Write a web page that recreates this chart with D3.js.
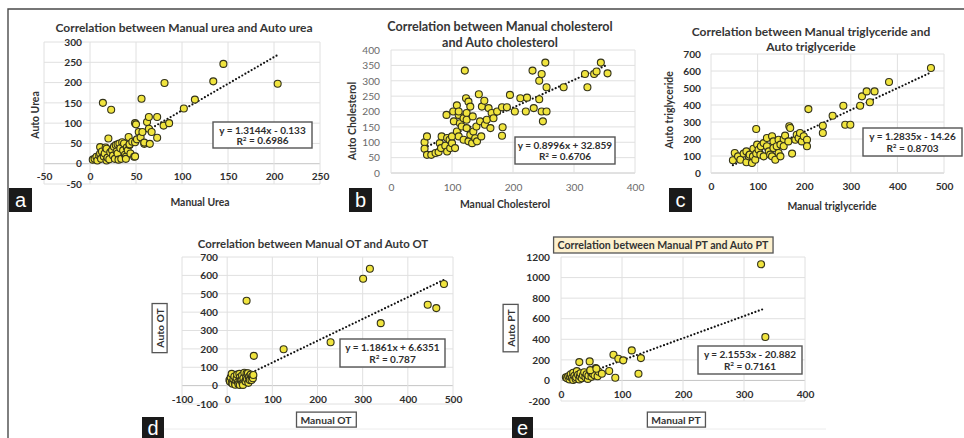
<!DOCTYPE html>
<html>
<head>
<meta charset="utf-8">
<script src="https://cdn.jsdelivr.net/npm/d3@7"></script>
<style>
  body { margin: 0; background: #fff; }
  svg { display: block; font-family: Lato, "Open Sans", sans-serif; }
</style>
</head>
<body>
<div id="chart"></div>
<script>
// data
var ureaPts = [[3,10],[5,12],[7,17],[8,8],[10,20],[11,25],[12,12],[11,41],[13,30],[14,150],[15,18],[16,25],[17,40],
  [18,8],[18,37],[19,15],[20,62],[21,11],[22,28],[23,133],[24,33],[25,20],[26,42],[27,12],[28,46],[29,30],[30,25],
  [30,48],[31,10],[32,50],[33,38],[34,12],[35,53],[36,33],[37,50],[38,22],[39,17],[39,12],[40,40],[41,33],[42,66],
  [43,46],[43,48],[44,25],[46,54],[48,17],[49,18],[49,53],[49,100],[50,97],[51,60],[53,78],[55,65],[56,160],[57,78],
  [59,49],[59,52],[62,103],[64,115],[64,86],[65,49],[67,78],[73,115],[73,64],[80,94],[81,199],[86,100],[102,136],
  [114,158],[134,203],[145,246],[204,197]];

var cholPts = [[55,100],[55,79],[59,119],[59,59],[66,59],[73,65],[78,68],[80,97],[82,81],[83,119],[89,89],[91,189],
  [92,114],[92,70],[96,108],[97,81],[100,97],[100,119],[102,200],[103,168],[105,81],[108,220],[108,135],[111,119],
  [111,189],[111,200],[113,162],[116,151],[119,108],[119,178],[121,333],[123,243],[124,146],[124,195],[124,173],
  [127,232],[127,103],[130,124],[130,216],[133,97],[134,184],[135,135],[138,113],[140,151],[141,103],[144,256],
  [146,168],[148,119],[149,216],[153,235],[154,157],[157,173],[160,211],[163,146],[165,195],[168,178],[174,200],
  [182,214],[182,121],[183,149],[190,214],[195,254],[203,200],[212,243],[221,200],[223,245],[232,333],[234,211],
  [243,300],[243,240],[247,322],[247,200],[249,168],[253,359],[255,279],[255,200],[283,279],[318,322],[322,279],
  [333,322],[337,330],[344,359],[355,324]];

var trigPts = [[47,75],[51,118],[58,98],[63,78],[70,114],[76,63],[76,127],[81,98],[83,108],[88,59],[90,98],[91,143],
  [95,78],[97,259],[97,114],[99,167],[102,137],[106,108],[107,157],[113,176],[113,98],[120,206],[120,157],[124,127],
  [127,108],[131,216],[131,98],[134,186],[134,147],[138,78],[141,157],[145,196],[145,118],[149,167],[149,98],
  [156,200],[156,157],[159,220],[166,186],[168,275],[170,265],[174,114],[181,196],[184,225],[188,206],[191,235],
  [195,186],[199,216],[206,196],[206,157],[209,376],[240,278],[240,235],[261,337],[284,396],[288,284],[299,284],
  [320,396],[324,451],[334,480],[341,416],[351,480],[382,535],[472,618]];

var otPts = [[5,30],[6,22],[8,45],[10,64],[10,15],[12,10],[14,35],[16,50],[17,13],[18,5],[20,28],[21,40],[22,60],
  [24,20],[25,8],[27,64],[28,4],[28,45],[30,30],[32,31],[33,55],[34,12],[35,4],[36,40],[38,70],[40,25],[41,22],
  [42,50],[43,67],[44,35],[46,67],[47,15],[48,45],[49,49],[50,30],[52,60],[54,31],[55,50],[57,40],[58,58],
  [43,462],[59,162],[125,198],[229,236],[301,582],[316,636],[340,340],[444,440],[463,422],[480,553]];

var ptPts = [[8,30],[10,20],[12,40],[14,10],[15,35],[16,60],[18,25],[20,5],[20,75],[22,45],[24,15],[25,30],[26,90],
  [28,55],[30,10],[31,40],[32,70],[34,20],[36,50],[38,80],[40,30],[42,60],[44,15],[45,45],[48,90],[50,35],[52,65],
  [55,50],[57,120],[60,40],[62,85],[48,100],[30,178],[47,185],[58,114],[67,65],[79,91],[86,250],[89,26],[94,211],
  [102,195],[116,292],[127,65],[131,217],[328,1129],[335,422]];

var ureaXTicks = [-50, 0, 50, 100, 150, 200, 250], ureaYTicks = [-50, 0, 50, 100, 150, 200, 250, 300];
var cholXTicks = [0, 100, 200, 300, 400], cholYTicks = [0, 50, 100, 150, 200, 250, 300, 350, 400];
var trigXTicks = [0, 100, 200, 300, 400, 500], trigYTicks = [0, 100, 200, 300, 400, 500, 600, 700];
var otXTicks = [-100, 0, 100, 200, 300, 400, 500], otYTicks = [-100, 0, 100, 200, 300, 400, 500, 600, 700];
var ptXTicks = [0, 100, 200, 300, 400], ptYTicks = [-200, 0, 200, 400, 600, 800, 1000, 1200];

var slopes = [1.3144, 0.8996, 1.2835, 1.1861, 2.1553];
var intercepts = [-0.133, 32.859, -14.26, 6.6351, -20.882];
var rSquared = ['0.6986', '0.6706', '0.8703', '0.787', '0.7161'];

var titles = [['Correlation between Manual urea and Auto urea'],
  ['Correlation between Manual cholesterol', 'and Auto cholesterol'],
  ['Correlation between Manual triglyceride and', 'Auto triglyceride'],
  ['Correlation between Manual OT and Auto OT'],
  ['Correlation between Manual PT and Auto PT']];
var xTitles = ['Manual Urea', 'Manual Cholesterol', 'Manual triglyceride', 'Manual OT', 'Manual PT'];
var yTitles = ['Auto Urea', 'Auto Cholesterol', 'Auto triglyceride', 'Auto OT', 'Auto PT'];
var letters = ['a', 'b', 'c', 'd', 'e'];

// setup canvas
var width = 964, height = 438;
var svg = d3.select('#chart').append('svg')
    .attr('width', width).attr('height', height);

// outer frame (only top and left show in the crop)
svg.append('path').attr('d', 'M8,438V9H964').attr('fill', 'none')
    .attr('stroke', '#4a4a4a').attr('stroke-width', 1.4);
svg.append('line').attr('x1', 150).attr('x2', 826).attr('y1', 429).attr('y2', 429)
    .attr('stroke', '#ececec');

var panels = [
  { pts: ureaPts, xt: ureaXTicks, yt: ureaYTicks, xr: [44, 320], yr: [184, 42], xLabY: 176, yLabX: 82,
    tx: 184, ty: [28], tSize: 12, xTitle: [200, 202], yTitle: [35, 115], eq: [213, 122, 99, 26], letter: [9, 188, 23, 24], bold: true },
  { pts: cholPts, xt: cholXTicks, yt: cholYTicks, xr: [391, 635], yr: [173, 50], xLabY: 187, yLabX: 380,
    tx: 500, ty: [27, 43], tSize: 12.6, xTitle: [505, 204], yTitle: [352, 121], eq: [515, 137, 100, 27], letter: [349, 188, 23, 24], bold: false },
  { pts: trigPts, xt: trigXTicks, yt: trigYTicks, xr: [711, 944], yr: [173, 54], xLabY: 186, yLabX: 701,
    tx: 811, ty: [32, 47], tSize: 12, xTitle: [832, 206], yTitle: [669, 110], eq: [863, 128, 99, 28], letter: [669, 188, 23, 24], bold: true },
  { pts: otPts, xt: otXTicks, yt: otYTicks, xr: [182, 453], yr: [404, 257], xLabY: 399, yLabX: 218,
    tx: 313, ty: [244], tSize: 11.4, xTitle: [326, 420], yTitle: [160, 328], eq: [340, 339, 105, 28], letter: [142, 417, 22, 21],
    bold: true, boxedAxes: true },
  { pts: ptPts, xt: ptXTicks, yt: ptYTicks, xr: [561, 805], yr: [401, 257], xLabY: 394, yLabX: 550,
    tx: 663, ty: [245], tSize: 10.6, xTitle: [676, 420], yTitle: [511, 328], eq: [698, 346, 104, 28], letter: [512, 417, 21, 21],
    bold: true, boxedAxes: true, boxedTitle: true }
];

function boxedText(parent, x, y, txt, rot, fill, size) {
  var g = parent.append('g').attr('transform', 'translate(' + x + ',' + y + ')' + (rot ? ' rotate(-90)' : ''));
  var t = g.append('text').attr('text-anchor', 'middle').attr('dy', '0.35em')
      .attr('font-size', size || 10.3).attr('font-weight', 'bold').attr('fill', '#333').text(txt);
  var bb = t.node().getBBox();
  g.insert('rect', 'text').attr('x', bb.x - 4).attr('y', bb.y - 1.5)
      .attr('width', bb.width + 8).attr('height', bb.height + 3)
      .attr('fill', fill || '#fff').attr('stroke', '#555').attr('stroke-width', 1.3);
  return g;
}

var plain = function(d){ return String(d); };

panels.forEach(function(p, i) {
  var g = svg.append('g');
  var xs = d3.scaleLinear().domain(d3.extent(p.xt)).range(p.xr);
  var ys = d3.scaleLinear().domain(d3.extent(p.yt)).range(p.yr);

  // gridlines
  g.selectAll('.hg').data(p.yt).enter().append('line')
      .attr('x1', p.xr[0]).attr('x2', p.xr[1])
      .attr('y1', function(d){ return ys(d); }).attr('y2', function(d){ return ys(d); })
      .attr('stroke', function(d){ return d === 0 ? '#c4c4c4' : '#e0e0e0'; });
  g.selectAll('.vg').data(p.xt).enter().append('line')
      .attr('y1', p.yr[0]).attr('y2', p.yr[1])
      .attr('x1', function(d){ return xs(d); }).attr('x2', function(d){ return xs(d); })
      .attr('stroke', '#e0e0e0');

  // axes, crossing at zero like excel
  var tickFill = p.bold ? '#2e2e2e' : '#6a6a6a';
  var yAxisG = g.append('g')
      .attr('transform', 'translate(' + xs(0) + ',0)')
      .call(d3.axisLeft(ys).tickValues(p.yt).tickFormat(plain).tickSize(0).tickPadding(xs(0) - p.yLabX));
  var xAxisG = g.append('g')
      .attr('transform', 'translate(0,' + ys(0) + ')')
      .call(d3.axisBottom(xs).tickValues(p.xt).tickFormat(plain).tickSize(0));
  xAxisG.selectAll('text').attr('y', p.xLabY - ys(0)).attr('dy', '0.35em');
  [yAxisG, xAxisG].forEach(function(a) {
    a.select('.domain').remove();
    a.attr('font-family', null).attr('font-size', null);
    a.selectAll('text').attr('font-size', 10.2).attr('font-weight', p.bold ? 'bold' : 'normal')
        .attr('fill', tickFill);
  });

  // trend line over the x range of the data
  var ext = d3.extent(p.pts, function(d){ return d[0]; });
  g.append('line')
      .attr('x1', xs(ext[0])).attr('y1', ys(slopes[i] * ext[0] + intercepts[i]))
      .attr('x2', xs(ext[1])).attr('y2', ys(slopes[i] * ext[1] + intercepts[i]))
      .attr('stroke', '#111').attr('stroke-width', 2.2)
      .attr('stroke-linecap', 'round').attr('stroke-dasharray', '0,3.6');

  // points
  g.selectAll('.dot').data(p.pts).enter().append('circle')
      .attr('cx', function(d){ return xs(d[0]); })
      .attr('cy', function(d){ return ys(d[1]); })
      .attr('r', 3.5)
      .attr('fill', '#f0e43e').attr('stroke', '#34331a').attr('stroke-width', 1.1);

  // equation box
  var b = intercepts[i];
  var eqText = 'y = ' + slopes[i] + 'x ' + (b < 0 ? '- ' : '+ ') + Math.abs(b);
  g.append('rect').attr('x', p.eq[0]).attr('y', p.eq[1]).attr('width', p.eq[2]).attr('height', p.eq[3])
      .attr('fill', '#fff').attr('stroke', '#555').attr('stroke-width', 1.4);
  var eqG = g.append('text').attr('text-anchor', 'middle').attr('font-size', 10)
      .attr('font-weight', 'bold').attr('fill', '#2e2e2e');
  eqG.append('tspan').attr('x', p.eq[0] + p.eq[2] / 2).attr('y', p.eq[1] + p.eq[3] * 0.32).attr('dy', '0.35em').text(eqText);
  var r2 = eqG.append('tspan').attr('x', p.eq[0] + p.eq[2] / 2).attr('y', p.eq[1] + p.eq[3] * 0.74).attr('dy', '0.35em');
  r2.append('tspan').text('R');
  r2.append('tspan').attr('font-size', 6.4).attr('dy', '-0.6em').text('2');
  r2.append('tspan').attr('dy', '0.35em').text(' = ' + rSquared[i]);

  // chart title
  if (p.boxedTitle) {
    boxedText(g, p.tx, p.ty[0], titles[i][0], false, '#fdf1cf', p.tSize).select('rect').attr('y', -8).attr('height', 16);
  } else {
    titles[i].forEach(function(line, k) {
      g.append('text').attr('x', p.tx).attr('y', p.ty[k]).attr('dy', '0.35em')
          .attr('text-anchor', 'middle').attr('font-size', p.tSize).attr('font-weight', 'bold')
          .attr('fill', '#363636').text(line);
    });
  }

  // axis titles
  if (p.boxedAxes) {
    boxedText(g, p.xTitle[0], p.xTitle[1], xTitles[i], false);
    boxedText(g, p.yTitle[0], p.yTitle[1], yTitles[i], true);
  } else {
    g.append('text').attr('x', p.xTitle[0]).attr('y', p.xTitle[1]).attr('dy', '0.35em')
        .attr('text-anchor', 'middle').attr('font-size', 10.4).attr('font-weight', 'bold')
        .attr('fill', '#333').text(xTitles[i]);
    g.append('text').attr('transform', 'translate(' + p.yTitle[0] + ',' + p.yTitle[1] + ') rotate(-90)')
        .attr('dy', '0.35em').attr('text-anchor', 'middle').attr('font-size', 10.4).attr('font-weight', 'bold')
        .attr('fill', '#333').text(yTitles[i]);
  }

  // panel letter
  g.append('rect').attr('x', p.letter[0]).attr('y', p.letter[1]).attr('width', p.letter[2]).attr('height', p.letter[3])
      .attr('fill', '#1a1a1a');
  g.append('text').attr('x', p.letter[0] + p.letter[2] / 2).attr('y', p.letter[1] + p.letter[3] / 2)
      .attr('dy', '0.36em').attr('text-anchor', 'middle')
      .attr('font-family', '"Liberation Sans", Arial, sans-serif').attr('font-size', 20)
      .attr('fill', '#fff').text(letters[i]);
});
</script>
</body>
</html>
